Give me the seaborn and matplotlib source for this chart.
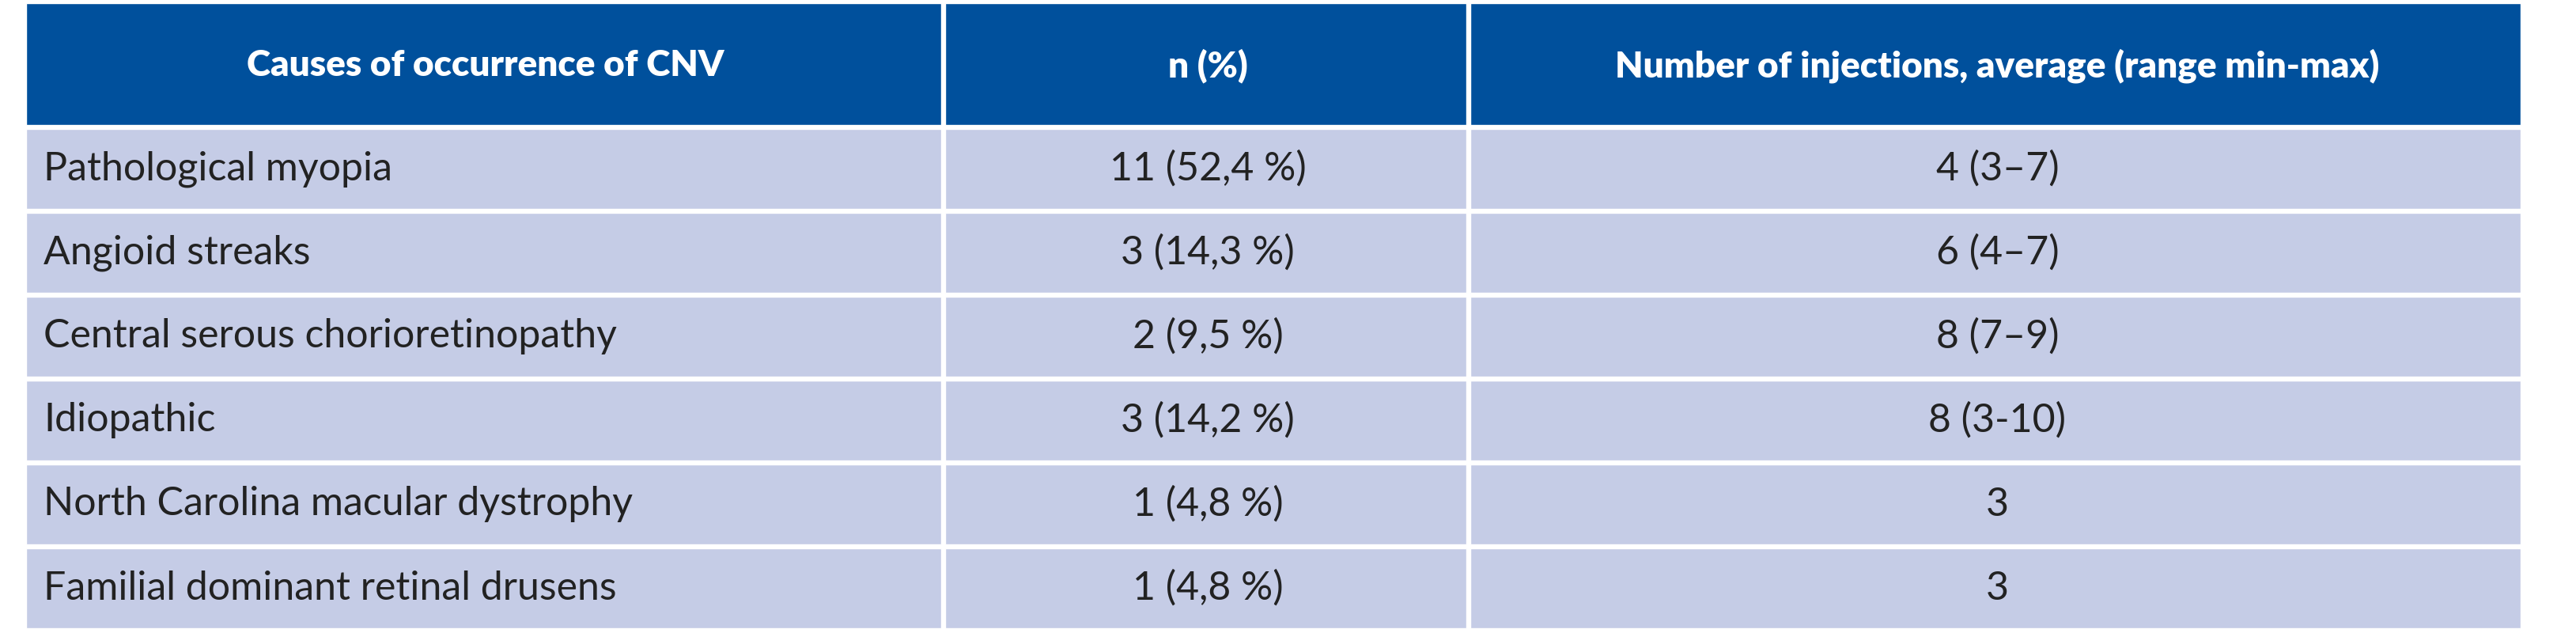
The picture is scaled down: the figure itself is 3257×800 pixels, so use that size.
import matplotlib
matplotlib.use("Agg")
import matplotlib.pyplot as plt
import seaborn as sns

headers = ["Causes of occurrence of CNV", "n (%)", "Number of injections, average (range min-max)"]
causes = [
    "Pathological myopia",
    "Angioid streaks",
    "Central serous chorioretinopathy",
    "Idiopathic",
    "North Carolina macular dystrophy",
    "Familial dominant retinal drusens",
]
counts = ["11 (52,4 %)", "3 (14,3 %)", "2 (9,5 %)", "3 (14,2 %)", "1 (4,8 %)", "1 (4,8 %)"]
injections = ["4 (3–7)", "6 (4–7)", "8 (7–9)", "8 (3-10)", "3", "3"]

sns.set_theme(style="white")
plt.rcParams["font.family"] = ["Lato", "DejaVu Sans"]

W, H = 3257, 800
col_edges = [33, 1195, 1859, 3192]
header_top, header_bot = 4, 158
row_top, row_pitch, gap = 163, 106, 5

fig = plt.figure(figsize=(W / 100, H / 100), dpi=100)
ax = fig.add_axes([0, 0, 1, 1])
ax.set_xlim(0, W)
ax.set_ylim(H, 0)
ax.axis("off")

header_color = "#00509c"
body_color = "#c5cce6"

# header
for i, text in enumerate(headers):
    left, right = col_edges[i], col_edges[i + 1]
    ax.barh((header_top + header_bot) / 2, right - left - gap, left=left,
            height=header_bot - header_top, color=header_color, align="center")
    ax.text((left + right) / 2, (header_top + header_bot) / 2 + 2, text,
            color="white", fontsize=33, fontweight="heavy", ha="center", va="center")

# body rows
for r, row in enumerate(zip(causes, counts, injections)):
    y0 = row_top + r * row_pitch
    yc = y0 + (row_pitch - gap) / 2
    for i, text in enumerate(row):
        left, right = col_edges[i], col_edges[i + 1]
        ax.barh(yc, right - left - gap, left=left, height=row_pitch - gap,
                color=body_color, align="center")
        if i == 0:
            ax.text(left + 22, yc, text, fontsize=36, color="#222222",
                    ha="left", va="center")
        else:
            ax.text((left + right) / 2, yc, text, fontsize=36, color="#222222",
                    ha="center", va="center")

fig.savefig("out.png", dpi=100, facecolor="white")
